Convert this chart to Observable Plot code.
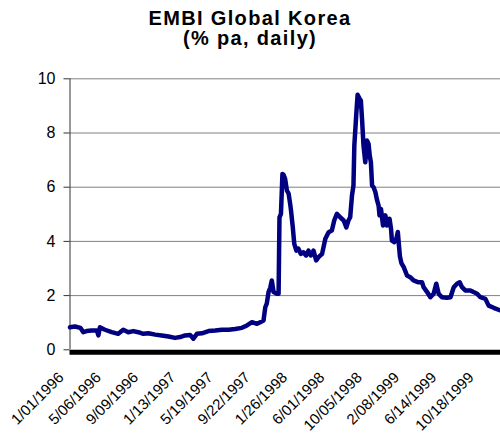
<!DOCTYPE html>
<html><head><meta charset="utf-8">
<script src="https://cdn.jsdelivr.net/npm/d3@7"></script>
<script src="https://cdn.jsdelivr.net/npm/@observablehq/plot@0.6"></script>
<style>
body{margin:0;background:#fff;font-family:"Liberation Sans",Arial,sans-serif;}
#title{height:52px;padding-top:8px;}
#title div{text-align:center;font-weight:bold;font-size:20px;line-height:20px;letter-spacing:1.35px;color:#000;white-space:nowrap;}
</style></head><body>
<div id="title"><div>EMBI Global Korea</div><div>(% pa, daily)</div></div>
<div id="chart"></div>
<script>
const dates = [
"1996-01-01","1996-01-18","1996-02-05","1996-02-15","1996-02-26","1996-03-14","1996-04-01","1996-04-06","1996-04-11","1996-04-28","1996-05-21","1996-06-12","1996-06-29","1996-07-16","1996-08-02","1996-08-19","1996-09-05","1996-09-22","1996-10-15","1996-11-06","1996-11-29","1996-12-21",
"1997-01-07","1997-01-24","1997-02-10","1997-02-21","1997-03-05","1997-03-22","1997-04-13","1997-05-06","1997-05-28","1997-06-20","1997-07-12","1997-08-04","1997-08-21","1997-09-07","1997-09-24","1997-10-05","1997-10-16","1997-10-22","1997-10-27","1997-11-02","1997-11-08","1997-11-13","1997-11-19","1997-11-30","1997-12-06","1997-12-09","1997-12-14","1997-12-19","1997-12-23","1997-12-28",
"1998-01-03","1998-01-09","1998-01-14","1998-01-17","1998-01-20","1998-01-23","1998-01-28","1998-02-04","1998-02-11","1998-02-19","1998-02-28","1998-03-09","1998-03-17","1998-03-25","1998-04-03","1998-04-12","1998-04-20","1998-05-02","1998-05-13","1998-05-24","1998-06-04","1998-06-12","1998-06-21","1998-07-02","1998-07-14","1998-07-23","1998-07-30","1998-08-05","1998-08-11","1998-08-16","1998-08-19","1998-08-26","1998-08-30","1998-09-06","1998-09-10","1998-09-14","1998-09-19","1998-09-25","1998-10-01","1998-10-06","1998-10-10","1998-10-14","1998-10-18","1998-10-23","1998-10-29","1998-11-04","1998-11-09","1998-11-12","1998-11-17","1998-11-24","1998-12-02","1998-12-07","1998-12-16","1998-12-21","1998-12-24",
"1999-01-01","1999-01-08","1999-01-13","1999-01-16","1999-01-20","1999-01-25","1999-02-02","1999-02-13","1999-02-24","1999-03-07","1999-03-24","1999-04-05","1999-04-10","1999-04-22","1999-05-03","1999-05-14","1999-05-23","1999-05-31","1999-06-11","1999-06-28","1999-07-10","1999-07-21","1999-08-01","1999-08-10","1999-08-18","1999-08-29","1999-09-15","1999-09-26","1999-10-08","1999-10-19","1999-11-05","1999-11-16","1999-12-03","1999-12-26"];
const values = [
0.83,0.86,0.81,0.65,0.69,0.71,0.71,0.53,0.83,0.74,0.65,0.59,0.74,0.65,0.69,0.65,0.59,0.61,0.56,0.53,0.49,0.44,
0.47,0.53,0.55,0.41,0.59,0.61,0.69,0.71,0.74,0.74,0.77,0.81,0.90,1.02,0.96,1.02,1.08,1.57,1.70,2.13,2.30,2.56,2.13,2.07,2.07,4.89,5.02,6.49,6.45,6.31,
5.88,5.76,5.39,5.14,4.83,4.52,3.91,3.66,3.73,3.54,3.60,3.48,3.66,3.48,3.66,3.30,3.42,3.54,4.10,4.34,4.40,4.77,5.02,4.89,4.77,4.52,4.77,4.89,5.69,6.06,7.54,8.77,9.41,9.26,9.20,8.52,7.54,6.92,7.72,7.60,7.17,6.92,6.06,6.00,5.82,5.51,5.32,4.96,5.20,4.59,4.96,4.59,4.83,4.46,4.03,
3.97,4.10,4.35,3.95,3.45,3.20,3.05,2.74,2.68,2.56,2.49,2.49,2.31,2.13,1.94,2.07,2.44,2.07,1.94,1.92,1.94,2.31,2.44,2.49,2.31,2.19,2.19,2.13,2.07,1.94,1.88,1.63,1.55,1.45];
const tickLabels = ["1/01/1996","5/06/1996","9/09/1996","1/13/1997","5/19/1997","9/22/1997","1/26/1998","6/01/1998","10/05/1998","2/08/1999","6/14/1999","10/18/1999"];
const yTicks = [0, 2, 4, 6, 8, 10];
const xDomain = ["1996-01-01", "1999-12-26"];

const parse = d3.utcParse("%Y-%m-%d");
const parseLabel = d3.utcParse("%m/%d/%Y");
const data = dates.map((d, i) => ({date: parse(d), value: values[i]}));
const tickData = tickLabels.map(s => ({date: parseLabel(s), label: s, y: 0}));
const xStart = parse(xDomain[0]);

const chart = Plot.plot({
  width: 500, height: 376,
  marginLeft: 69.5, marginRight: 0, marginTop: 18.3, marginBottom: 86.7,
  style: {fontFamily: '"Liberation Sans", Arial, sans-serif', fontSize: "16px", background: "#fff", color: "#000", overflow: "visible"},
  x: {type: "utc", domain: xDomain.map(parse), axis: null},
  y: {domain: [0, 10], axis: null},
  marks: [
    Plot.gridY(yTicks.filter(v => v > 0), {stroke: "#808080", strokeOpacity: 1, strokeWidth: 1}),
    Plot.axisY(yTicks, {tickSize: 6, tickPadding: 8.5, stroke: "#333", fill: "#000", fontSize: 16, label: null}),
    Plot.ruleX([xStart], {y1: 0, y2: 10, stroke: "#333"}),
    Plot.lineY(data, {x: "date", y: "value", stroke: "#000080", strokeWidth: 4.5, strokeLinejoin: "round", strokeLinecap: "round"}),
    Plot.ruleY([0], {stroke: "#000", strokeWidth: 5, dy: 2.5}),
    Plot.text(tickData, {x: "date", y: "y", text: "label", rotate: -45, textAnchor: "end", lineAnchor: "top", dx: -13, dy: 21, fontSize: 15, fill: "#000"})
  ]
});
document.getElementById("chart").appendChild(chart);
</script>
</body></html>
